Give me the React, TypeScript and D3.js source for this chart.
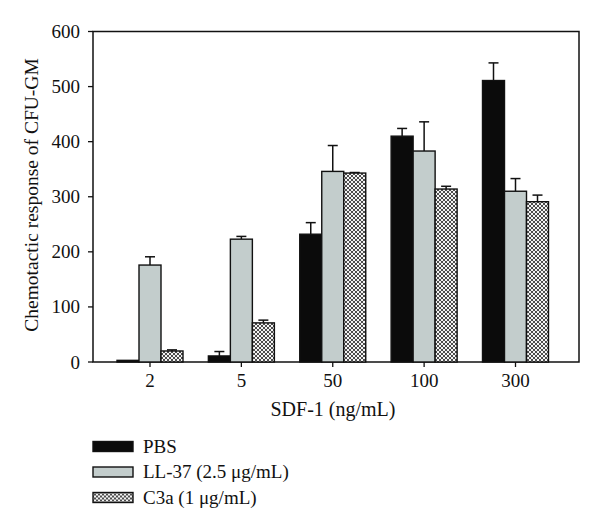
import React from "react";
import * as d3 from "d3";

const categories = ["2", "5", "50", "100", "300"];
const seriesNames = ["PBS", "LL-37 (2.5 μg/mL)", "C3a (1 μg/mL)"];
const pbsValues = [3, 11, 232, 410, 511];
const pbsErrors = [0, 8, 21, 14, 32];
const ll37Values = [176, 223, 346, 383, 310];
const ll37Errors = [15, 5, 47, 53, 23];
const c3aValues = [20, 71, 343, 314, 291];
const c3aErrors = [2, 5, 1, 5, 12];
const yTicks = [0, 100, 200, 300, 400, 500, 600];

const W = 600;
const H = 529;
const left = 93;
const right = 579;
const top = 31.5;
const bottom = 362;
const FONT = "'Liberation Serif', 'Times New Roman', serif";

export default function App() {
  const x = d3.scalePoint<string>().domain(categories).range([150, 515.5]);
  const y = d3.scaleLinear().domain([0, 600]).range([bottom, top]);
  const barW = 22;
  const series = [
    { name: seriesNames[0], values: pbsValues, errors: pbsErrors, fill: "#0b0b0b" },
    { name: seriesNames[1], values: ll37Values, errors: ll37Errors, fill: "#c3cdcc" },
    { name: seriesNames[2], values: c3aValues, errors: c3aErrors, fill: "url(#hatch)" },
  ];

  return (
    <svg width={W} height={H} style={{ position: "absolute", left: 0, top: 0, background: "#fff" }}>
      <defs>
        <pattern id="hatch" width="4" height="4" patternUnits="userSpaceOnUse">
          <rect width="4" height="4" fill="#f4f4f4" />
          <path d="M0,0 L4,4 M4,0 L0,4" stroke="#3a3a3a" strokeWidth="0.9" />
        </pattern>
      </defs>
      {/* frame */}
      <rect x={left} y={top} width={right - left} height={bottom - top} fill="none" stroke="#111" strokeWidth={1.5} />
      {/* y ticks */}
      {yTicks.map((t) => (
        <g key={t}>
          <line x1={left - 5} x2={left} y1={y(t)} y2={y(t)} stroke="#111" strokeWidth={1.3} />
          <text x={80} y={y(t) + 6.5} textAnchor="end" fontFamily={FONT} fontSize={19} fill="#111">
            {t}
          </text>
        </g>
      ))}
      {/* x ticks */}
      {categories.map((c) => (
        <g key={c}>
          <line x1={x(c)} x2={x(c)} y1={bottom} y2={bottom + 5} stroke="#111" strokeWidth={1.3} />
          <text x={x(c)} y={387} textAnchor="middle" fontFamily={FONT} fontSize={19} fill="#111">
            {c}
          </text>
        </g>
      ))}
      {/* bars */}
      {series.map((s, si) =>
        categories.map((c, i) => {
          const bx = (x(c) as number) + (si - 1.5) * barW;
          const by = y(s.values[i]);
          const cx = bx + barW / 2;
          const ey = y(s.values[i] + s.errors[i]);
          return (
            <g key={s.name + c}>
              {s.errors[i] > 0 && (
                <g stroke="#111" strokeWidth={1.5}>
                  <line x1={cx} x2={cx} y1={by} y2={ey} />
                  <line x1={cx - 5} x2={cx + 5} y1={ey} y2={ey} />
                </g>
              )}
              <rect x={bx} y={by} width={barW} height={bottom - by} fill={s.fill} stroke="#111" strokeWidth={1.4} />
            </g>
          );
        })
      )}
      {/* axis titles */}
      <text x={333} y={416} textAnchor="middle" fontFamily={FONT} fontSize={20} fill="#111">
        SDF-1 (ng/mL)
      </text>
      <text
        transform={`translate(38, ${(57 + 333) / 2}) rotate(-90)`}
        textAnchor="middle"
        fontFamily={FONT}
        fontSize={19.5}
        fill="#111"
      >
        Chemotactic response of CFU-GM
      </text>
      {/* legend */}
      {series.map((s, i) => (
        <g key={s.name} transform={`translate(93, ${441.5 + i * 25.5})`}>
          <rect x={0} y={0} width={40} height={10} fill={s.fill} stroke="#111" strokeWidth={1.4} />
          <text x={50} y={11} fontFamily={FONT} fontSize={19} fill="#111">
            {s.name}
          </text>
        </g>
      ))}
    </svg>
  );
}
